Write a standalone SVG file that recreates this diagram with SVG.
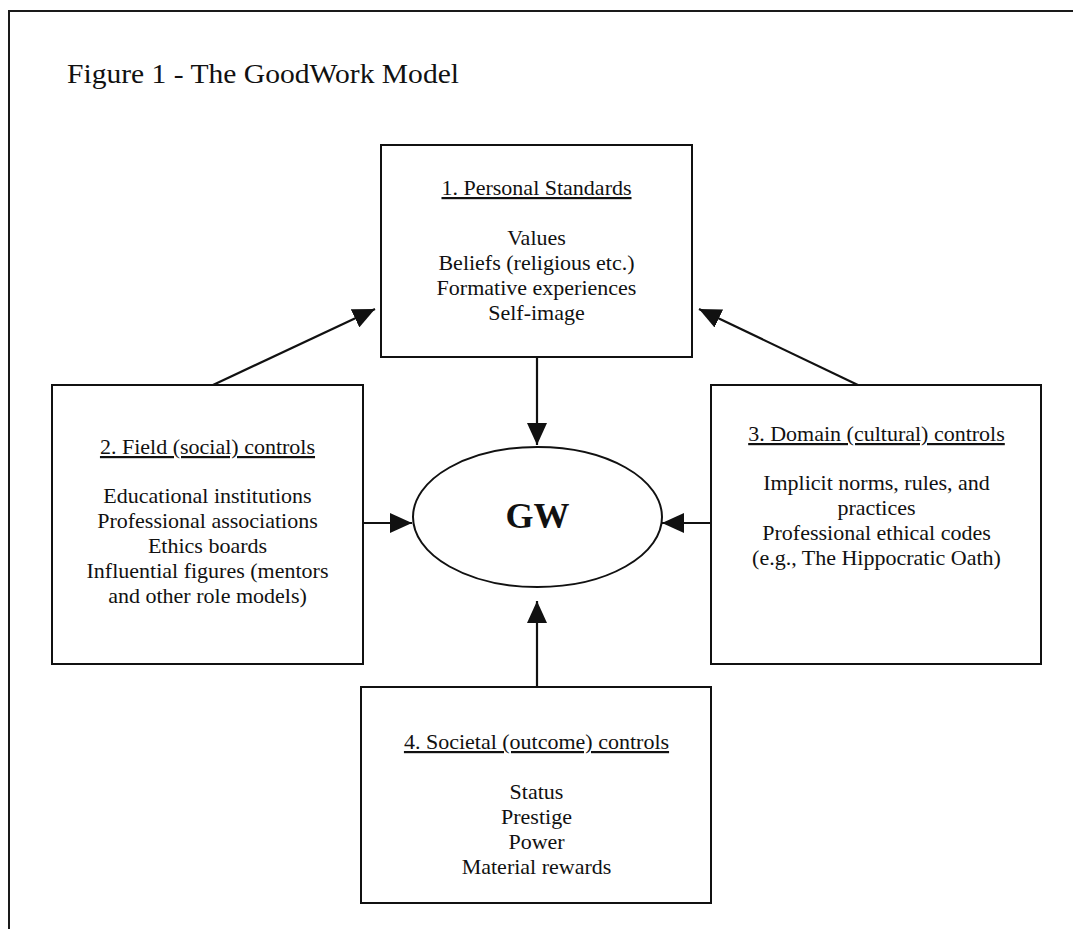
<svg xmlns="http://www.w3.org/2000/svg" width="1073" height="929" viewBox="0 0 1073 929">
  <style>
    .frame { fill: none; stroke: #1a1a1a; stroke-width: 2; }
    .box { fill: #fff; stroke: #111; stroke-width: 2; }
    .link { fill: none; stroke: #111; stroke-width: 2.2; }
    text { font-family: "Liberation Serif", "Times New Roman", serif; fill: #111; }
    .title { font-size: 28px; }
    .head { font-size: 22px; text-anchor: middle; text-decoration: underline; }
    .item { font-size: 22px; text-anchor: middle; }
    .gw { font-size: 36px; font-weight: bold; text-anchor: middle; }
  </style>
  <defs>
    <marker id="arrow" markerUnits="userSpaceOnUse" markerWidth="22" markerHeight="20" refX="22" refY="10" orient="auto">
      <path d="M0,0 L22,10 L0,20 Z" fill="#111"/>
    </marker>
  </defs>

  <rect width="1073" height="929" fill="#fff"/>
  <!-- page frame: only the top and left edges fall inside the view -->
  <path class="frame" d="M9,929 V11 H1073"/>

  <text class="title" x="67" y="83" textLength="392" lengthAdjust="spacingAndGlyphs">Figure 1 - The GoodWork Model</text>

  <g id="connectors">
    <line class="link" x1="213" y1="385" x2="375" y2="309" marker-end="url(#arrow)"/>
    <line class="link" x1="860" y1="386" x2="699" y2="309" marker-end="url(#arrow)"/>
    <line class="link" x1="537" y1="357" x2="537" y2="445" marker-end="url(#arrow)"/>
    <line class="link" x1="363" y1="523" x2="412" y2="523" marker-end="url(#arrow)"/>
    <line class="link" x1="711" y1="523" x2="662" y2="523" marker-end="url(#arrow)"/>
    <line class="link" x1="537" y1="687" x2="537" y2="601" marker-end="url(#arrow)"/>
  </g>

  <g id="personal-standards">
    <rect class="box" x="381" y="145" width="311" height="212"/>
    <text class="head" x="536.5" y="195">1. Personal Standards</text>
    <text class="item" x="536.5" y="245">Values</text>
    <text class="item" x="536.5" y="270">Beliefs (religious etc.)</text>
    <text class="item" x="536.5" y="295">Formative experiences</text>
    <text class="item" x="536.5" y="320">Self-image</text>
  </g>

  <g id="field-controls">
    <rect class="box" x="52" y="385" width="311" height="279"/>
    <text class="head" x="207.5" y="454">2. Field (social) controls</text>
    <text class="item" x="207.5" y="503">Educational institutions</text>
    <text class="item" x="207.5" y="528">Professional associations</text>
    <text class="item" x="207.5" y="553">Ethics boards</text>
    <text class="item" x="207.5" y="578">Influential figures (mentors</text>
    <text class="item" x="207.5" y="603">and other role models)</text>
  </g>

  <g id="domain-controls">
    <rect class="box" x="711" y="385" width="330" height="279"/>
    <text class="head" x="876.5" y="441">3. Domain (cultural) controls</text>
    <text class="item" x="876.5" y="490">Implicit norms, rules, and</text>
    <text class="item" x="876.5" y="515">practices</text>
    <text class="item" x="876.5" y="540">Professional ethical codes</text>
    <text class="item" x="876.5" y="565">(e.g., The Hippocratic Oath)</text>
  </g>

  <g id="societal-controls">
    <rect class="box" x="361" y="687" width="350" height="216"/>
    <text class="head" x="536.5" y="749">4. Societal (outcome) controls</text>
    <text class="item" x="536.5" y="799">Status</text>
    <text class="item" x="536.5" y="824">Prestige</text>
    <text class="item" x="536.5" y="849">Power</text>
    <text class="item" x="536.5" y="874">Material rewards</text>
  </g>

  <g id="goodwork">
    <ellipse class="box" cx="537.5" cy="517" rx="124.5" ry="70"/>
    <text class="gw" x="537.5" y="528">GW</text>
  </g>
</svg>
